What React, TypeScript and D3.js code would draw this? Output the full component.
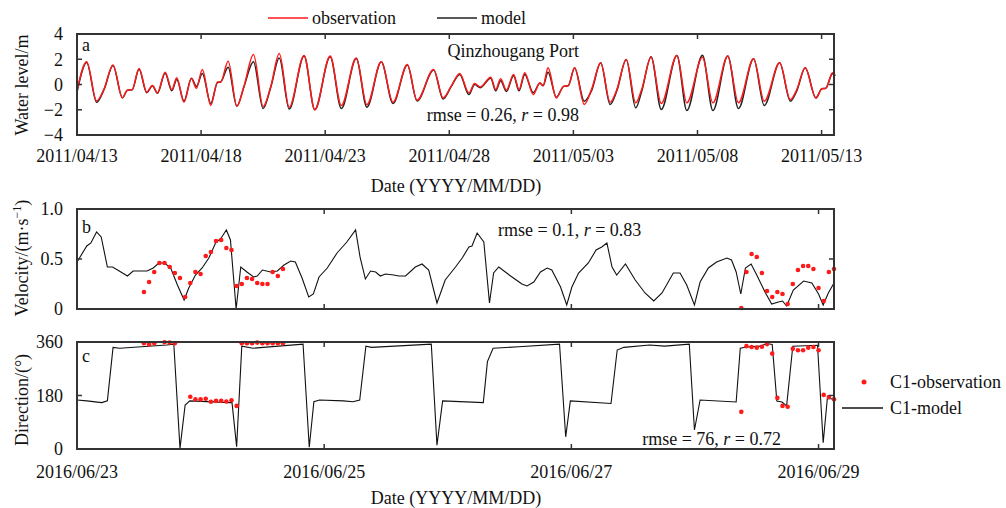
import React from "react";
import * as d3 from "d3";

// ---------- Panel a: water level (turning points) ----------
const levelStart = "2011-04-13T00:00:00Z";
const levelEnd = "2011-05-13T12:00:00Z";
// time in days since 2011/04/13 00:00
const levelDays = [
  0.0, 0.39, 0.79, 1.09, 1.45, 1.83, 2.03, 2.22, 2.5, 2.81, 3.04, 3.24, 3.55, 3.82, 4.02, 4.31, 4.61, 4.81,
  5.05, 5.39, 5.66, 5.79, 6.09, 6.44, 6.73, 7.11, 7.5, 7.81, 8.15, 8.55, 9.15, 9.58, 10.2, 10.65, 11.25,
  11.68, 12.26, 12.73, 13.31, 13.7, 14.37, 14.75, 15.08, 15.42, 15.79, 16.02, 16.25, 16.67, 16.87, 17.07,
  17.3, 17.59, 17.81, 18.04, 18.38, 18.65, 18.78, 18.98, 19.31, 19.61, 19.79, 20.05, 20.44, 20.74, 21.1,
  21.48, 21.75, 22.13, 22.51, 22.75, 23.13, 23.54, 24.17, 24.57, 25.2, 25.62, 26.22, 26.65, 27.26, 27.69,
  28.31, 28.74, 29.0, 29.34, 29.77, 30.01, 30.17, 30.44, 30.55,
];
const levelObs = [
  -0.5, 1.8, -1.3, -0.35, 1.55, -1.05, -0.45, -0.42, 1.27, -0.6, -0.08, -0.66, 0.98, -0.4, 0.53, -1.4, 0.47, -0.3,
  1.19, -1.66, 0.2, 0.2, 1.85, -1.72, -0.13, 2.38, -1.75, -0.13, 2.46, -1.8, 2.3, -2.0, 2.25, -1.66, 2.1,
  -1.6, 1.8, -1.4, 1.58, -1.24, 1.19, -1.06, -0.13, 0.87, -0.66, 0.08, -0.19, 0.58, -0.4, 0.45,
  -0.45, 0.79, -0.4, 0.93, -0.79, 0.13, -0.08, 1.32, -1.06, -0.13, -0.1, 1.32, -1.58, -0.34, 1.72,
  -1.4, -0.4, 1.98, -1.45, -0.4, 2.16, -1.5, 2.3, -1.45, 2.16, -1.45, 2.25, -1.45, 2.04, -1.32,
  1.72, -1.2, -0.4, 1.32, -1.06, -0.34, -0.3, 0.93, 0.7,
];
const levelModel = [
  -0.6, 1.75, -1.4, -0.4, 1.5, -1.05, -0.45, -0.42, 1.2, -0.65, -0.1, -0.7, 0.9, -0.5, 0.4, -1.3, 0.5, -0.15,
  0.87, -1.5, 0.15, 0.2, 1.37, -1.72, -0.15, 1.8, -1.9, -0.2, 2.1, -1.95, 2.25, -2.0, 2.2, -1.9, 2.05,
  -1.8, 1.8, -1.5, 1.55, -1.3, 1.15, -1.15, -0.15, 0.8, -0.8, 0.0, -0.25, 0.5, -0.5, 0.3,
  -0.55, 0.7, -0.5, 0.8, -0.65, 0.1, -0.1, 0.98, -1.0, -0.15, -0.1, 1.3, -1.32, -0.45, 1.72,
  -1.58, -0.5, 1.98, -1.85, -0.55, 2.2, -1.98, 2.3, -2.06, 2.32, -2.06, 2.25, -1.9, 2.04, -1.66,
  1.72, -1.32, -0.5, 1.32, -1.06, -0.34, -0.3, 0.85, 0.7,
];
const levelTicks = ["2011-04-13", "2011-04-18", "2011-04-23", "2011-04-28", "2011-05-03", "2011-05-08", "2011-05-13"];
const levelTickLabels = ["2011/04/13", "2011/04/18", "2011/04/23", "2011/04/28", "2011/05/03", "2011/05/08", "2011/05/13"];
const levelYTicks = [4, 2, 0, -2, -4];
const levelYLabels = ["4", "2", "0", "\u22122", "\u22124"];

// ---------- Panels b/c: velocity & direction (hours since 2016/06/23 00:00) ----------
const curStart = "2016-06-23T00:00:00Z";
const curEnd = "2016-06-29T03:00:00Z";
const velModelHours = [
  0, 1.9, 2.7, 3.8, 4.7, 5.9, 6.9, 8.2, 9.8, 10.9, 13.6, 14.8, 15.9, 17.0, 18.2, 19.5, 20.8, 21.7, 23.0,
  24.3, 25.6, 26.9, 28.0, 29.0, 29.8, 30.9, 31.8, 33.0, 34.3, 35.0, 36.0, 37.6, 38.9, 40.2, 41.5, 42.4,
  43.7, 45.0, 45.9, 47.0, 48.6, 50.5, 52.4, 54.1, 55.0, 56.0, 57.0, 58.0, 58.9, 59.9, 61.5, 62.5, 63.8,
  65.7, 67.0, 68.3, 69.9, 71.5, 73.5, 74.8, 76.1, 76.7, 77.7, 79.0, 80.1, 80.9, 81.9, 84.2, 86.4, 87.4,
  88.7, 90.0, 91.3, 92.2, 93.9, 95.1, 96.1, 97.4, 99.3, 100.8, 101.9, 102.9, 103.9, 104.8, 106.5, 108.4,
  110.3, 112.0, 113.6, 115.8, 117.1, 118.4, 119.9, 121.0, 122.6, 124.2, 126.2, 127.1, 128.0, 128.9,
  129.8, 130.9, 132.0, 133.6, 134.9, 136.2, 137.0, 137.8, 139.1, 141.1, 142.7, 144.0, 144.9, 145.9, 147.0,
];
const velModel = [
  0.47, 0.63, 0.66, 0.77, 0.72, 0.42, 0.42, 0.38, 0.33, 0.38, 0.38, 0.41, 0.46, 0.46, 0.41, 0.24, 0.09, 0.21, 0.34,
  0.41, 0.51, 0.66, 0.71, 0.79, 0.69, 0.0, 0.42, 0.37, 0.32, 0.33, 0.39, 0.37, 0.38, 0.44, 0.48, 0.47,
  0.31, 0.12, 0.15, 0.32, 0.41, 0.56, 0.67, 0.79, 0.51, 0.3, 0.38, 0.37, 0.33, 0.35, 0.34, 0.33, 0.33,
  0.42, 0.45, 0.39, 0.06, 0.29, 0.42, 0.51, 0.62, 0.63, 0.76, 0.67, 0.06, 0.36, 0.42, 0.33, 0.25, 0.23,
  0.27, 0.37, 0.41, 0.39, 0.22, 0.04, 0.22, 0.36, 0.46, 0.59, 0.62, 0.66, 0.42, 0.34, 0.45, 0.29,
  0.16, 0.08, 0.16, 0.36, 0.36, 0.24, 0.04, 0.27, 0.41, 0.47, 0.51, 0.49, 0.37, 0.15,
  0.41, 0.45, 0.34, 0.17, 0.05, 0.07, 0.08, 0.03, 0.19, 0.28, 0.26, 0.15, 0.04, 0.16, 0.26,
];
const velObsHours = [
  13, 14, 15, 16, 17, 18, 19, 20, 21, 22, 23, 24, 25, 26, 27, 28, 29, 30, 31, 32, 33, 34, 35, 36, 37, 38, 39, 40,
  129, 130, 131, 132, 133, 134, 135, 136, 137, 138, 139, 140, 141, 142, 143, 144, 145, 146, 147,
];
const velObs = [
  0.17, 0.27, 0.37, 0.46, 0.46, 0.42, 0.36, 0.31, 0.12, 0.26, 0.37, 0.35, 0.53, 0.57, 0.68, 0.69, 0.61, 0.59,
  0.23, 0.25, 0.31, 0.3, 0.26, 0.25, 0.25, 0.37, 0.33, 0.4,
  0.01, 0.37, 0.55, 0.52, 0.36, 0.18, 0.12, 0.17, 0.15, 0.05, 0.25, 0.39, 0.43, 0.43, 0.4, 0.21, 0.08, 0.37, 0.4,
];
const dirModelHours = [
  0, 1.9, 4.8, 5.9, 7.0, 8.3, 17.4, 18.8, 20.0, 21.0, 21.9, 29.7, 30.1, 31.0, 32.0, 34.2, 43.9, 45.1, 46.0,
  47.1, 51.7, 53.6, 54.9, 56.1, 57.2, 68.8, 69.9, 71.0, 78.9, 79.7, 80.8, 85.8, 93.7, 94.9, 95.8, 103.7,
  104.9, 106.2, 111.2, 114.1, 118.9, 119.9, 121.0, 128.0, 128.8, 130.0, 132.8, 133.9, 135.0, 135.9, 136.9,
  137.8, 139.0, 143.8, 144.9, 145.7, 147.0,
];
const dirModel = [
  165, 162, 156, 162, 342, 339, 350, 353, 2, 148, 162, 156, 156, 8, 346, 339, 353, 6, 159,
  165, 162, 159, 165, 346, 342, 353, 13, 162, 156, 294, 339, 344, 353, 41, 162, 153,
  333, 342, 350, 346, 353, 64, 165, 158, 339, 343, 346, 355, 352, 161, 158,
  145, 346, 349, 21, 169, 169,
];
const dirObsHours = [
  13, 14, 15, 17, 18, 19, 22, 23, 24, 25, 26, 27, 28, 29, 30, 31, 32, 33, 34, 35, 36, 37, 38, 39, 40,
  129, 130, 131, 132, 133, 134, 135, 136, 137, 138, 139, 140, 141, 142, 143, 144, 145, 146, 147,
];
const dirObs = [
  356, 352, 356, 359, 358, 356, 176, 167, 167, 169, 159, 162, 162, 160, 164, 145, 356, 356, 356, 358, 356, 356, 356, 356, 356,
  125, 346, 343, 341, 344, 353, 321, 172, 145, 142, 337, 332, 332, 341, 343, 332, 182, 175, 167,
];
const curTicks = ["2016-06-23", "2016-06-25", "2016-06-27", "2016-06-29"];
const curTickLabels = ["2016/06/23", "2016/06/25", "2016/06/27", "2016/06/29"];
const velYTicks = [1.0, 0.5, 0];
const velYLabels = ["1.0", "0.5", "0"];
const dirYTicks = [360, 180, 0];
const dirYLabels = ["360", "180", "0"];

const FONT = "'Liberation Serif', 'Times New Roman', serif";
const FS = 18;
const X0 = 77;
const X1 = 834;
const FRAME = "#333";
const RED = "#ff1a1a";

type Frame = { top: number; bottom: number };

function FrameTicks({ x, y, xt, yt, frame }: any) {
  const items: any[] = [];
  xt.forEach((d: any, i: number) => {
    const px = x(d);
    items.push(<line key={"xb" + i} x1={px} x2={px} y1={frame.bottom} y2={frame.bottom - 5} stroke={FRAME} strokeWidth={1.5} />);
    items.push(<line key={"xt" + i} x1={px} x2={px} y1={frame.top} y2={frame.top + 5} stroke={FRAME} strokeWidth={1.5} />);
  });
  yt.forEach((v: number, i: number) => {
    const py = y(v);
    items.push(<line key={"yl" + i} x1={X0} x2={X0 + 5} y1={py} y2={py} stroke={FRAME} strokeWidth={1.5} />);
    items.push(<line key={"yr" + i} x1={X1} x2={X1 - 5} y1={py} y2={py} stroke={FRAME} strokeWidth={1.5} />);
  });
  return <g>{items}</g>;
}

export default function App() {
  // Panel a
  const fa: Frame = { top: 34, bottom: 135 };
  const xa = d3.scaleUtc().domain([new Date(levelStart), new Date(levelEnd)]).range([X0, X1]);
  const ya = d3.scaleLinear().domain([-4, 4]).range([fa.bottom, fa.top]);
  const t0a = new Date(levelStart).getTime();
  const dayDate = (d: number) => new Date(t0a + d * 86400000);
  const lineA = d3
    .line<[number, number]>()
    .x((p) => xa(dayDate(p[0])))
    .y((p) => ya(p[1]))
    .curve(d3.curveMonotoneX);
  const obsPts: [number, number][] = levelDays.map((d, i) => [d, levelObs[i]]);
  const modPts: [number, number][] = levelDays.map((d, i) => [d, levelModel[i]]);

  // Panels b, c
  const fb: Frame = { top: 209, bottom: 309 };
  const fc: Frame = { top: 342, bottom: 449 };
  const xc = d3.scaleUtc().domain([new Date(curStart), new Date(curEnd)]).range([X0, X1]);
  const t0c = new Date(curStart).getTime();
  const hourDate = (h: number) => new Date(t0c + h * 3600000);
  const yb = d3.scaleLinear().domain([0, 1]).range([fb.bottom, fb.top]);
  const yc = d3.scaleLinear().domain([0, 360]).range([fc.bottom, fc.top]);
  const lineB = d3
    .line<[number, number]>()
    .x((p) => xc(hourDate(p[0])))
    .y((p) => yb(p[1]));
  const lineC = d3
    .line<[number, number]>()
    .x((p) => xc(hourDate(p[0])))
    .y((p) => yc(p[1]));
  const velPts: [number, number][] = velModelHours.map((h, i) => [h, velModel[i]]);
  const dirPts: [number, number][] = dirModelHours.map((h, i) => [h, dirModel[i]]);

  const levelTickDates = levelTicks.map((s) => new Date(s + "T00:00:00Z"));
  const curTickDates = curTicks.map((s) => new Date(s + "T00:00:00Z"));

  const yLabels = (y: any, vals: number[], labels: string[]) =>
    vals.map((v, i) => (
      <text key={"yl" + i} x={63} y={y(v)} dy="0.35em" textAnchor="end">
        {labels[i]}
      </text>
    ));

  return (
    <svg
      width={1006}
      height={508}
      style={{ position: "absolute", left: 0, top: 0, background: "#fff" }}
      fontFamily={FONT}
      fontSize={FS}
      fill="#111"
    >
      <rect x={0} y={0} width={1006} height={508} fill="#fff" />
      {/* Legend top */}
      <line x1={268} x2={308} y1={18} y2={18} stroke={RED} strokeWidth={1.5} />
      <text x={312} y={24}>observation</text>
      <line x1={437} x2={477} y1={18} y2={18} stroke="#222" strokeWidth={1.5} />
      <text x={481} y={24}>model</text>

      {/* Panel a */}
      <path d={lineA(modPts) || ""} fill="none" stroke="#222" strokeWidth={1.5} />
      <path d={lineA(obsPts) || ""} fill="none" stroke={RED} strokeWidth={1.5} />
      <rect x={X0} y={fa.top} width={X1 - X0} height={fa.bottom - fa.top} fill="none" stroke={FRAME} strokeWidth={2} />
      <FrameTicks x={xa} y={ya} xt={levelTickDates} yt={[2, 0, -2]} frame={fa} />
      {yLabels(ya, levelYTicks, levelYLabels)}
      {levelTickDates.map((d, i) => (
        <text key={"xa" + i} x={xa(d)} y={162} textAnchor="middle">
          {levelTickLabels[i]}
        </text>
      ))}
      <text x={456} y={192} textAnchor="middle">Date (YYYY/MM/DD)</text>
      <text transform="translate(28,85) rotate(-90)" textAnchor="middle">Water level/m</text>
      <text x={82} y={51}>a</text>
      <text x={579} y={57} textAnchor="end">Qinzhougang Port</text>
      <text x={579} y={121} textAnchor="end">
        rmse = 0.26, <tspan fontStyle="italic">r</tspan> = 0.98
      </text>

      {/* Panel b */}
      <path d={lineB(velPts) || ""} fill="none" stroke="#111" strokeWidth={1.1} />
      {velObsHours.map((h, i) => (
        <circle key={"vb" + i} cx={xc(hourDate(h))} cy={yb(velObs[i])} r={2.3} fill={RED} />
      ))}
      <rect x={X0} y={fb.top} width={X1 - X0} height={fb.bottom - fb.top} fill="none" stroke={FRAME} strokeWidth={2} />
      <FrameTicks x={xc} y={yb} xt={curTickDates.slice(1)} yt={[0.5]} frame={fb} />
      {yLabels(yb, velYTicks, velYLabels)}
      <text transform="translate(28,258) rotate(-90)" textAnchor="middle">
        Velocity/(m·s<tspan fontSize={12} dy={-7}>−1</tspan>
        <tspan dy={7}>)</tspan>
      </text>
      <text x={82} y={233}>b</text>
      <text x={498} y={236}>
        rmse = 0.1, <tspan fontStyle="italic">r</tspan> = 0.83
      </text>

      {/* Panel c */}
      <path d={lineC(dirPts) || ""} fill="none" stroke="#111" strokeWidth={1.1} />
      {dirObsHours.map((h, i) => (
        <circle key={"dc" + i} cx={xc(hourDate(h))} cy={yc(dirObs[i])} r={2.3} fill={RED} />
      ))}
      <rect x={X0} y={fc.top} width={X1 - X0} height={fc.bottom - fc.top} fill="none" stroke={FRAME} strokeWidth={2} />
      <FrameTicks x={xc} y={yc} xt={curTickDates.slice(1)} yt={[180]} frame={fc} />
      {yLabels(yc, dirYTicks, dirYLabels)}
      {curTickDates.map((d, i) => (
        <text key={"xc" + i} x={xc(d)} y={478} textAnchor="middle">
          {curTickLabels[i]}
        </text>
      ))}
      <text x={456} y={504} textAnchor="middle">Date (YYYY/MM/DD)</text>
      <text transform="translate(28,400) rotate(-90)" textAnchor="middle">Direction/(°)</text>
      <text x={82} y={362}>c</text>
      <text x={781} y={445} textAnchor="end">
        rmse = 76, <tspan fontStyle="italic">r</tspan> = 0.72
      </text>

      {/* Legend right */}
      <circle cx={864} cy={382} r={2.5} fill={RED} />
      <text x={890} y={388}>C1-observation</text>
      <line x1={842} x2={883} y1={408} y2={408} stroke="#111" strokeWidth={1.3} />
      <text x={890} y={414}>C1-model</text>
    </svg>
  );
}
